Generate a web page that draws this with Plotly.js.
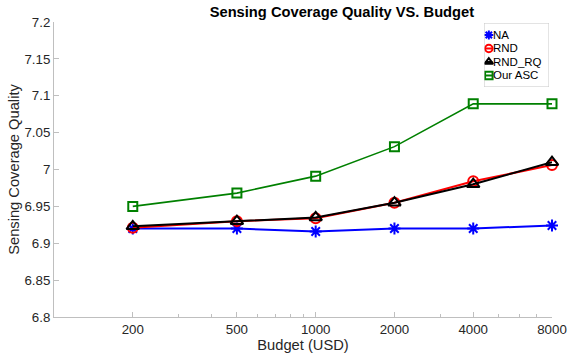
<!DOCTYPE html>
<html><head><meta charset="utf-8">
<script src="https://cdn.plot.ly/plotly-3.0.1.min.js"></script>
<style>html,body{margin:0;padding:0;background:#fff}#chart{width:567px;height:360px}</style>
</head><body><div id="chart"></div>
<script>
const budgets = [200, 500, 1000, 2000, 4000, 8000];
const tickLabels = ["200", "500", "1000", "2000", "4000", "8000"];
const minorTicks = [300, 400, 600, 700, 800, 900, 3000, 5000, 6000, 7000];
const yTicks = [6.8, 6.85, 6.9, 6.95, 7, 7.05, 7.1, 7.15, 7.2];
const yTickLabels = ["6.8", "6.85", "6.9", "6.95", "7", "7.05", "7.1", "7.15", "7.2"];
const seriesNames = ["NA", "RND", "RND_RQ", "Our ASC"];
const naVals = [6.920, 6.920, 6.916, 6.920, 6.920, 6.924];
const rndVals = [6.921, 6.930, 6.934, 6.955, 6.984, 7.006];
const rndRqVals = [6.923, 6.930, 6.935, 6.955, 6.980, 7.010];
const ascVals = [6.950, 6.968, 6.991, 7.031, 7.089, 7.089];

const font = "Liberation Sans, Arial, Helvetica, sans-serif";
const styles = [
  {color: '#0000ff', symbol: 'asterisk-open', lw: 2, ms: 10},
  {color: '#ff0000', symbol: 'circle-open', lw: 2, ms: 10},
  {color: '#000000', symbol: 'triangle-up-open', lw: 2, ms: 11},
  {color: '#008000', symbol: 'square-open', lw: 1.6, ms: 9}
];
const values = [naVals, rndVals, rndRqVals, ascVals];

const data = values.map((y, i) => ({
  x: budgets, y: y, name: seriesNames[i], type: 'scatter', mode: 'lines+markers',
  line: {color: styles[i].color, width: styles[i].lw},
  marker: {symbol: styles[i].symbol, size: styles[i].ms, color: styles[i].color, line: {color: styles[i].color, width: 2}},
  cliponaxis: false, showlegend: false
}));

// Compact legend (MATLAB-like) drawn in its own small overlay axes
const rowStep = 13.5, rowTop = 12;
const annotations = [];
seriesNames.forEach((n, i) => {
  const ry = rowTop + i * rowStep;
  data.push({x: [1.2, 8.4], y: [ry, ry], xaxis: 'x2', yaxis: 'y2', mode: 'lines', type: 'scatter',
    line: {color: styles[i].color, width: 2}, showlegend: false, hoverinfo: 'skip'});
  data.push({x: [4.8], y: [ry], xaxis: 'x2', yaxis: 'y2', mode: 'markers', type: 'scatter',
    marker: {symbol: styles[i].symbol, size: 7.5, color: styles[i].color, line: {color: styles[i].color, width: 2}},
    showlegend: false, hoverinfo: 'skip'});
  annotations.push({x: 7.5, y: ry, xref: 'x2', yref: 'y2', text: n, showarrow: false, borderpad: 0,
    xanchor: 'left', yanchor: 'middle', font: {size: 11.5, color: '#000', family: font}});
});

const layout = {
  width: 567, height: 360,
  margin: {l: 54, r: 15, t: 22, b: 43},
  paper_bgcolor: '#fff', plot_bgcolor: '#fff',
  font: {family: font, color: '#262626', size: 13.3},
  title: {text: '<b>Sensing Coverage Quality VS. Budget</b>', x: 0.603, xanchor: 'center', xref: 'container',
    y: 0.967, yref: 'container', yanchor: 'middle', font: {size: 14.7, color: '#000'}},
  xaxis: {type: 'log', range: [2, Math.log10(8000)], tickmode: 'array', tickvals: budgets, ticktext: tickLabels,
    ticks: 'inside', ticklen: 5, tickcolor: '#bfbfbf', showline: true, linecolor: '#bfbfbf', linewidth: 1,
    showgrid: false, zeroline: false, mirror: false,
    minor: {tickmode: 'array', tickvals: minorTicks, ticks: 'inside', ticklen: 3, tickcolor: '#bfbfbf', showgrid: false},
    title: {text: 'Budget (USD)', standoff: 2, font: {size: 14.7}}, tickfont: {size: 13.3}},
  yaxis: {range: [6.8, 7.2], tickmode: 'array', tickvals: yTicks, ticktext: yTickLabels,
    ticks: 'inside', ticklen: 5, tickcolor: '#bfbfbf', showline: true, linecolor: '#bfbfbf', linewidth: 1,
    showgrid: false, zeroline: false,
    title: {text: 'Sensing Coverage Quality', standoff: 1, font: {size: 14.7}}, tickfont: {size: 13.3}},
  xaxis2: {domain: [0.8635, 0.994], range: [0, 65], anchor: 'y2', visible: false, fixedrange: true},
  yaxis2: {domain: [0.7797, 0.9966], range: [64, 0], anchor: 'x2', visible: false, fixedrange: true},
  shapes: [{type: 'rect', xref: 'x2', yref: 'y2', x0: 0, x1: 65, y0: 0, y1: 64,
    line: {color: '#c8c8c8', width: 1}, fillcolor: 'rgba(0,0,0,0)', layer: 'above'}],
  annotations: annotations,
  showlegend: false
};
Plotly.newPlot('chart', data, layout, {staticPlot: true});
</script></body></html>
